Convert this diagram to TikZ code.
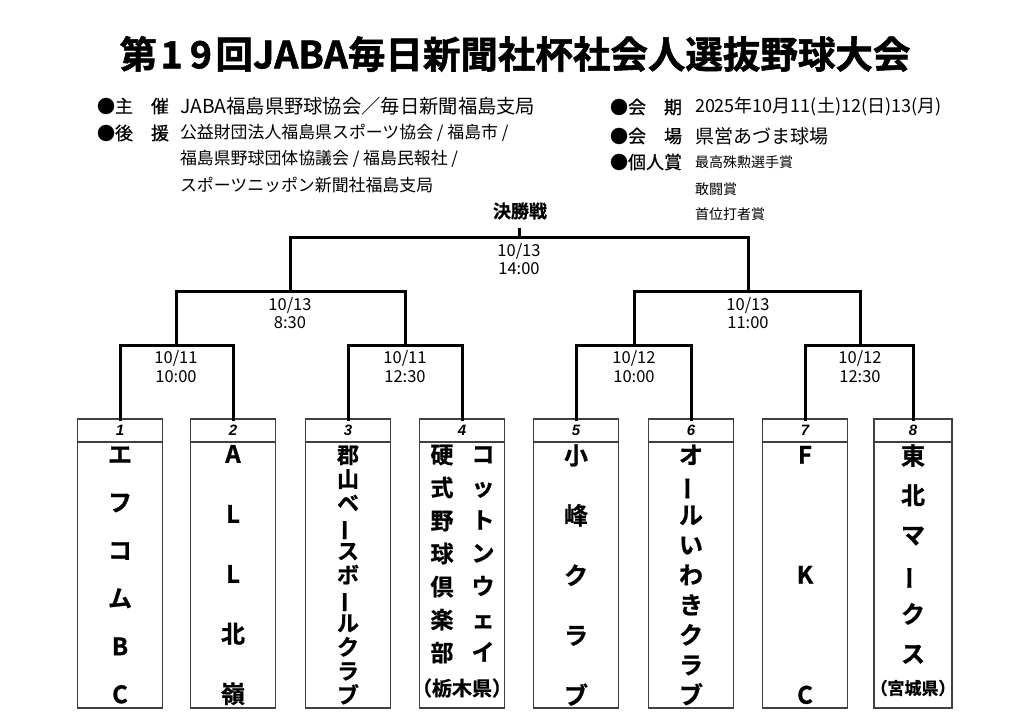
\documentclass[tikz,border=0pt]{standalone}
\usepackage{fontspec}
\usepackage{graphicx}
\setmainfont{Noto Sans CJK JP}[BoldFont={Noto Sans CJK JP Bold}]
\newfontfamily\numfont{Liberation Sans}
\newcommand\vchoon{\makebox[1em]{\smash{\rotatebox[origin=c]{90}{ー}}}}
\newcommand\fs[2]{\fontsize{#1}{#2}\selectfont}
\newcommand\heavy{\bfseries\addfontfeatures{FakeBold=0.8}}
\newcommand\dg[1]{\makebox[0.78em]{#1}}
\begin{document}
\begin{tikzpicture}[x=1pt,y=-1pt,
  every node/.style={inner sep=0pt,outer sep=0pt},
  bracket/.style={line width=3pt,line cap=rect},
  boxline/.style={draw=black!75,line width=1.2pt},
  numbox/.style={boxline,minimum width=#1,minimum height=23pt,font=\numfont\bfseries\itshape\fs{15}{18}},
  teambox/.style={boxline,minimum width=#1,minimum height=266pt},
  hlabel/.style={anchor=west,font=\fs{18}{22}\addfontfeatures{FakeBold=0.6}},
  htext/.style={anchor=west,font=\fs{16.9}{20}},
  date/.style={align=center,font=\fs{16.5}{18.5}},
  team/.style={align=center},
]
\useasboundingbox[fill=white] (0,0) rectangle (1024,724);

% title
\node[font=\fs{37.5}{40}\bfseries\addfontfeatures{FakeBold=1.5}] (title) at (515,54) {第\dg{1}\dg{9}回JABA毎日新聞社杯社会人選抜野球大会};

% header left
\node[hlabel] (l1) at (97,106) {●主　催};
\node[htext,font=\fs{19.3}{22}] (v1) at (180,106) {JABA福島県野球協会／毎日新聞福島支局};
\node[hlabel] (l2) at (97,133) {●後　援};
\node[htext] (v2) at (180,133) {公益財団法人福島県スポーツ協会 / 福島市 /};
\node[htext] (v3) at (180,159) {福島県野球団体協議会 / 福島民報社 /};
\node[htext] (v4) at (180,185) {スポーツニッポン新聞社福島支局};

% header right
\node[hlabel] (l5) at (610,107) {●会　期};
\node[htext,font=\fs{18}{22}] (v5) at (695,107) {2025年10月11(土)12(日)13(月)};
\node[hlabel] (l6) at (610,136) {●会　場};
\node[htext,font=\fs{19}{22}] (v6) at (695,136) {県営あづま球場};
\node[hlabel] (l7) at (610,162) {●個人賞};
\node[htext,font=\fs{14}{17}] (v7) at (695,162) {最高殊勲選手賞};
\node[htext,font=\fs{14}{17}] (v8) at (695,189) {敢闘賞};
\node[htext,font=\fs{14}{17}] (v9) at (695,214) {首位打者賞};

% number boxes and team boxes
\foreach \i/\x/\w in {1/120/85,2/233/85,3/348/85,4/462/85,5/576/85,6/691/85,7/805/85,8/913/78}{
  \node[numbox=\w] (n\i) at (\x,430.5) {\i};
  \node[teambox=\w] (b\i) at (\x,575) {};
}

% bracket coordinates
\coordinate (m1) at (176,345);
\coordinate (m2) at (405,345);
\coordinate (m3) at (634,345);
\coordinate (m4) at (860,345);
\coordinate (s1) at (290,291);
\coordinate (s2) at (748,291);
\coordinate (f) at (519,237);
\coordinate (ftop) at (519,229);

\draw[bracket] (n1.north) |- (m1) -| (n2.north);
\draw[bracket] (n3.north) |- (m2) -| (n4.north);
\draw[bracket] (n5.north) |- (m3) -| (n6.north);
\draw[bracket] (n7.north) |- (m4) -| (n8.north);
\draw[bracket] (m1) |- (s1) -| (m2);
\draw[bracket] (m3) |- (s2) -| (m4);
\draw[bracket] (s1) |- (f) -| (s2);
\draw[bracket] (f) -- (ftop);

\node[font=\heavy\fs{18}{20}] (final) at (520,211) {決勝戦};

% dates
\node[date] (df) at (519,259) {10/13\\14:00};
\node[date] (ds1) at (290,313) {10/13\\8:30};
\node[date] (ds2) at (748,313) {10/13\\11:00};
\node[date] (dm1) at (176,366.5) {10/11\\10:00};
\node[date] (dm2) at (405,366.5) {10/11\\12:30};
\node[date] (dm3) at (634,366.5) {10/12\\10:00};
\node[date] (dm4) at (860,366.5) {10/12\\12:30};

% team names
\node[team,font=\heavy\fs{24}{48}] (t1) at (b1.center) {エ\\フ\\コ\\ム\\B\\C};
\node[team,font=\heavy\fs{24}{60}] (t2) at (b2.center) {A\\L\\L\\北\\嶺};
\node[team,font=\heavy\fs{22}{24}] (t3) at (b3.center) {郡\\山\\ベ\\\vchoon\\ス\\ボ\\\vchoon\\ル\\ク\\ラ\\ブ};
\node[team,font=\heavy\fs{23}{33}] (t4a) at (442,554) {硬\\式\\野\\球\\倶\\楽\\部};
\node[team,font=\heavy\fs{23}{33}] (t4b) at (483,554) {コ\\ッ\\ト\\ン\\ウ\\ェ\\イ};
\node[font=\heavy\fs{20}{22}\addfontfeatures{RawFeature=+halt}] (p4) at (462,688) {（栃木県）};
\node[team,font=\heavy\fs{24}{60}] (t5) at (b5.center) {小\\峰\\ク\\ラ\\ブ};
\node[team,font=\heavy\fs{24}{30}] (t6) at (b6.center) {オ\\\vchoon\\ル\\い\\わ\\き\\ク\\ラ\\ブ};
\node[team,font=\heavy\fs{24}{120}] (t7) at (b7.center) {F\\K\\C};
\node[team,font=\heavy\fs{24}{39.6}] (t8) at (913,554) {東\\北\\マ\\\vchoon\\ク\\ス};
\node[font=\heavy\fs{17}{20}\addfontfeatures{RawFeature=+halt}] (p8) at (913,688) {（宮城県）};
\end{tikzpicture}
\end{document}
